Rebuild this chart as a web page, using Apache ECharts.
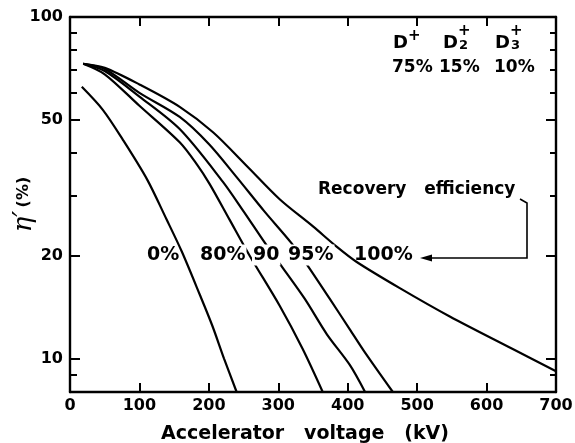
<!DOCTYPE html>
<html><head><meta charset="utf-8">
<script src="https://cdn.jsdelivr.net/npm/echarts@6/dist/echarts.min.js"></script>
<style>html,body{margin:0;padding:0;background:#fff}#c{width:575px;height:443px}</style>
</head><body><div id="c"></div>
<script>
// ---- data ----
const xTickValues = [0, 100, 200, 300, 400, 500, 600, 700];
const yTickValues = [9, 10, 20, 30, 40, 50, 60, 70, 80, 90, 100];
const yMajorTicks = [10, 20, 50, 100];
const yLabelValues = [10, 20, 50, 100];
const curveLabels = ['0%', '80%', '90', '95%', '100%'];
const eff0   = [[17,62.5],[47,53.6],[76,43.8],[111,33.5],[139,25.6],[161,20.6],[187,15.4],[205,12.5],[222,10],[240,8.0]];
const eff80  = [[19,73],[50,68],[100,55],[158,43],[183,37],[201,32.5],[230,25.5],[259,20.0],[302,14.3],[335,10.7],[364,8.0]];
const eff90  = [[19,73],[50,69.5],[100,58.5],[158,47],[220,33],[250,27],[283,21.5],[302,19],[338,15.0],[370,11.8],[403,9.6],[425,8.0]];
const eff95  = [[19,73],[50,70.5],[100,60],[158,51],[200,42.5],[240,34],[280,27],[319,21.8],[341,18.9],[374,15],[403,12.2],[424,10.5],[465,8.0]];
const eff100 = [[19,73],[50,71],[100,63.5],[158,54.6],[206,46],[255,36.6],[302,29.3],[350,24.4],[384,21.3],[413,19.2],[475,16.1],[547,13.3],[637,10.7],[700,9.2]];
const seriesData = [eff0, eff80, eff90, eff95, eff100];

const F = '"DejaVu Sans", sans-serif';
const chart = echarts.init(document.getElementById('c'));

function yAx(pos, len, ticks, showLabel, showLine) {
  return {
    type: 'log', logBase: 10, min: 8, max: 100, position: pos,
    axisLine: { show: showLine, lineStyle: { color: '#000', width: 2.4 } },
    axisTick: { show: true, inside: true, length: len, customValues: ticks, lineStyle: { color: '#000', width: 2 } },
    axisLabel: showLabel ? { show: true, customValues: yLabelValues, color: '#000', fontFamily: F, fontWeight: 'bold', fontSize: 16, margin: 7 } : { show: false },
    splitLine: { show: false }, minorTick: { show: false }, minorSplitLine: { show: false }
  };
}
function xAx(pos, showLabel) {
  return {
    type: 'value', min: 0, max: 700, interval: 100, position: pos,
    axisLine: { show: true, lineStyle: { color: '#000', width: 2.4 } },
    axisTick: { show: true, inside: true, length: 9, lineStyle: { color: '#000', width: 2 } },
    axisLabel: showLabel ? { show: true, color: '#000', fontFamily: F, fontWeight: 'bold', fontSize: 16, margin: 6 } : { show: false },
    splitLine: { show: false }
  };
}

const xBottom = xAx('bottom', true);
xBottom.name = '{t|Accelerator   voltage   (kV)}';
xBottom.nameLocation = 'middle';
xBottom.nameGap = 33;
xBottom.nameMoveOverlap = false;
xBottom.nameTextStyle = { rich: { t: { color: '#000', fontFamily: F, fontWeight: 'bold', fontSize: 19, padding: [0, 16, 0, 0] } } };

const yLeft = yAx('left', 7, yTickValues, true, true);
yLeft.name = '{e|η′} {p|(%)}';
yLeft.nameLocation = 'middle';
yLeft.nameGap = 33;
yLeft.nameRotate = 90;
yLeft.nameMoveOverlap = false;
yLeft.nameTextStyle = { rich: { e: { fontFamily: 'DejaVu Serif', fontStyle: 'italic', fontSize: 26, color: '#000' }, p: { fontFamily: F, fontWeight: 'bold', fontSize: 16, color: '#000' } } };

const series = seriesData.map((d, i) => ({
  type: 'line', name: curveLabels[i], data: d, xAxisIndex: 0, yAxisIndex: 0,
  smooth: 0.3, showSymbol: false, symbol: 'none', clip: true,
  lineStyle: { color: '#000', width: 2.2 }, z: 2
}));

function txt(x, y, t, size, align, vAlign) {
  return { type: 'text', x: x, y: y, z: 100,
    style: { text: t, font: 'bold ' + size + 'px ' + F, fill: '#000', textAlign: align || 'left', textVerticalAlign: vAlign || 'top' } };
}
function lbl(x, y, t, bg) {
  return { type: 'text', x: x, y: y, z: 100,
    style: { text: t, font: 'bold 19px ' + F, fill: '#000', textAlign: 'left', textVerticalAlign: 'middle', backgroundColor: bg ? '#fff' : null, padding: [1, 1] } };
}

const graphic = [
  // ion species
  txt(393, 34, 'D', 18), txt(408, 29, '+', 15),
  txt(443, 34, 'D', 18), txt(458, 24, '+', 15), txt(459, 39, '2', 13),
  txt(495, 34, 'D', 18), txt(510, 24, '+', 15), txt(511, 39, '3', 13),
  txt(392, 59, '75%', 17), txt(439, 59, '15%', 17), txt(494, 59, '10%', 17),
  // curve labels
  lbl(146, 255, curveLabels[0], false),
  lbl(199, 255, curveLabels[1], true),
  lbl(252, 255, curveLabels[2], true),
  lbl(287, 255, curveLabels[3], true),
  lbl(353, 255, curveLabels[4], false),
  // recovery efficiency annotation
  txt(318, 190, 'Recovery   efficiency', 17, 'left', 'middle'),
  { type: 'polyline', z: 100, shape: { points: [[520, 199], [527, 203], [527, 258], [430, 258]] }, style: { stroke: '#000', lineWidth: 1.6, fill: null } },
  { type: 'polygon', z: 100, shape: { points: [[420, 258], [432, 254.5], [432, 261.5]] }, style: { fill: '#000' } }
];

chart.setOption({
  animation: false,
  backgroundColor: '#fff',
  grid: { left: 70, right: 19, top: 17, bottom: 51, containLabel: false, outerBoundsMode: 'none' },
  xAxis: [xBottom, xAx('top', false)],
  yAxis: [yLeft, yAx('left', 10, yMajorTicks, false, false), yAx('right', 6, yTickValues, false, true), yAx('right', 10, yMajorTicks, false, false)],
  series: series,
  graphic: graphic
});
</script></body></html>
